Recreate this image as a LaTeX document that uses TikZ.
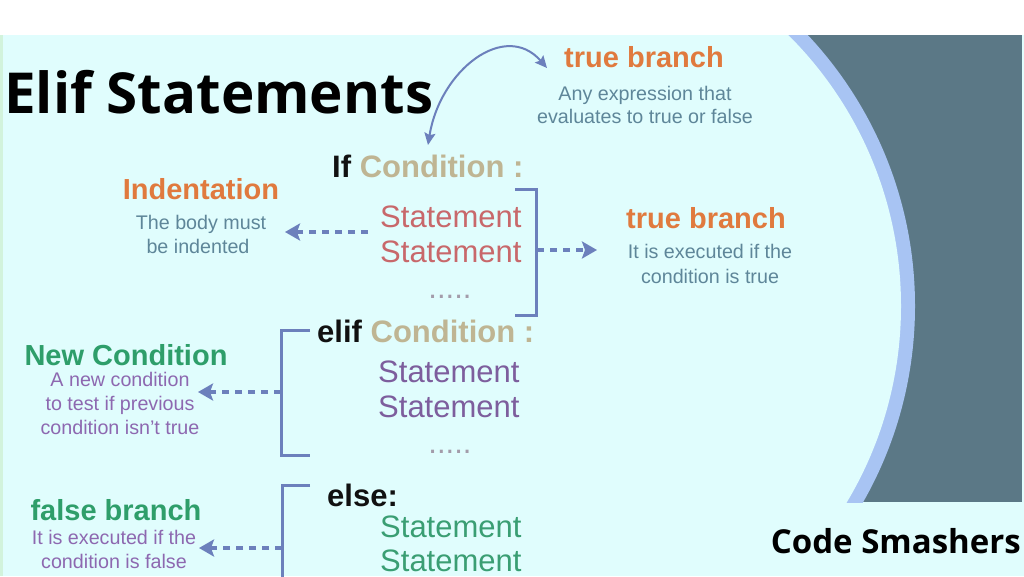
\documentclass[tikz,border=0pt]{standalone}
\usepackage{fontspec}
\setmainfont{Liberation Sans}
\newfontfamily\headfont{Open Sans}
\usetikzlibrary{arrows.meta}
\definecolor{bgc}{HTML}{E0FDFD}
\definecolor{edgegreen}{HTML}{D2F3DC}
\definecolor{darkc}{HTML}{5B7886}
\definecolor{bandc}{HTML}{A8C4F3}
\definecolor{conn}{HTML}{6C80BC}
\definecolor{orangec}{HTML}{E07A3E}
\definecolor{descblue}{HTML}{5E8699}
\definecolor{beige}{HTML}{BFB593}
\definecolor{redst}{HTML}{C8686B}
\definecolor{purplest}{HTML}{7D5E9D}
\definecolor{purpled}{HTML}{8D68B0}
\definecolor{greenh}{HTML}{2E9E6A}
\definecolor{greenst}{HTML}{3A9E73}
\definecolor{dotsc}{HTML}{A39CAA}
\definecolor{ink}{HTML}{111111}
\begin{document}
\begin{tikzpicture}[x=1pt,y=-1pt,
  titlef/.style={font=\headfont\bfseries\fontsize{56.5}{64}\selectfont, text=black, inner sep=0pt},
  code/.style={font=\fontsize{31}{36}\selectfont, anchor=base west, inner sep=0pt},
  head/.style={font=\bfseries\fontsize{29}{34}\selectfont, anchor=base, inner sep=0pt},
  desc/.style={font=\fontsize{19.7}{24}\selectfont, anchor=base, inner sep=0pt},
  dotsn/.style={font=\fontsize{31}{36}\selectfont, anchor=base, inner sep=0pt, text=dotsc},
  bracket/.style={draw=conn, line width=3pt},
  dasharrow/.style={draw=conn, line width=3.5pt, dash pattern=on 7pt off 6pt,
    -{Stealth[length=15pt,width=17pt,inset=3pt]}},
  arcarrow/.style={draw=conn, line width=2pt,
    {Stealth[length=12pt,width=11pt,inset=2pt]}-{Stealth[length=12pt,width=11pt,inset=2pt]}}
]
\useasboundingbox (0,0) rectangle (1024,576);
% background
\fill[white] (0,0) rectangle (1024,35);
\fill[bgc] (0,35) rectangle (1024,576);
\fill[edgegreen] (0,35) rectangle (3,576);
\begin{scope}
  \clip (600,35) rectangle (1022,502);
  \fill[darkc] (600,35) rectangle (1022,502);
  \fill[bandc] (519,306) circle[radius=396pt];
  \fill[bgc] (519,306) circle[radius=382pt];
\end{scope}

% title and credit
\node[titlef, anchor=base west] (title) at (4,113) {Elif Statements};
\node[titlef, font=\headfont\bfseries\fontsize{33}{40}\selectfont, anchor=base east] (credit) at (1021,553) {Code Smashers};

% top annotation
\node[head, text=orangec] (tb1) at (644,67) {true branch};
\node[desc, text=descblue] (tb1a) at (645,100) {Any expression that};
\node[desc, text=descblue] (tb1b) at (645,123) {evaluates to true or false};

% if block
\node[code, text=ink] (ifc) at (332,177) {\textbf{If} \textcolor{beige}{\textbf{Condition :}}};
\node[code, text=redst] (s1) at (380,227) {Statement};
\node[code, text=redst] (s2) at (380,262) {Statement};
\node[dotsn] (d1) at (450,298) {.....};

\node[head, text=orangec] (ind) at (201,199) {Indentation};
\node[desc, text=descblue] (inda) at (201,229) {The body must};
\node[desc, text=descblue] (indb) at (198,253) {be indented};

\node[head, text=orangec] (tb2) at (706,228) {true branch};
\node[desc, text=descblue] (tb2a) at (710,258) {It is executed if the};
\node[desc, text=descblue] (tb2b) at (710,283) {condition is true};

% elif block
\node[code, text=ink] (elifc) at (317,342) {\textbf{elif} \textcolor{beige}{\textbf{Condition :}}};
\node[code, text=purplest] (s3) at (378,382) {Statement};
\node[code, text=purplest] (s4) at (378,417) {Statement};
\node[dotsn] (d2) at (450,453) {.....};

\node[head, text=greenh] (nc) at (126,365) {New Condition};
\node[desc, text=purpled] (nca) at (120,386) {A new condition};
\node[desc, text=purpled] (ncb) at (120,410) {to test if previous};
\node[desc, text=purpled] (ncc) at (120,434) {condition isn't true};

% else block
\node[code, text=ink, font=\bfseries\fontsize{31}{36}\selectfont] (elsec) at (327,506) {else:};
\node[code, text=greenst] (s5) at (380,537) {Statement};
\node[code, text=greenst] (s6) at (380,571) {Statement};

\node[head, text=greenh] (fb) at (116,520) {false branch};
\node[desc, text=purpled] (fba) at (114,544) {It is executed if the};
\node[desc, text=purpled] (fbb) at (114,568) {condition is false};

% brackets
\draw[bracket] (515,189) -- (536,189) -- (536,315) -- (515,315);
\draw[bracket] (310,330) -- (281,330) -- (281,455) -- (310,455);
\draw[bracket] (310,485) -- (282,485) -- (282,580);

% connector end points
\coordinate (arcS) at (428,145);
\coordinate (arcE) at (547,68);
\coordinate (indS) at (368,232);
\coordinate (indE) at (285,232);
\coordinate (ifS) at (537,250);
\coordinate (ifE) at (597,250);
\coordinate (elS) at (281,392);
\coordinate (elE) at (198,392);
\coordinate (esS) at (282,548);
\coordinate (esE) at (199,548);

% connectors
\draw[arcarrow] (arcS) .. controls (440,70) and (505,20) .. (arcE);
\draw[dasharrow] (indS) -- (indE);
\draw[dasharrow] (ifS) -- (ifE);
\draw[dasharrow] (elS) -- (elE);
\draw[dasharrow] (esS) -- (esE);
\end{tikzpicture}
\end{document}
